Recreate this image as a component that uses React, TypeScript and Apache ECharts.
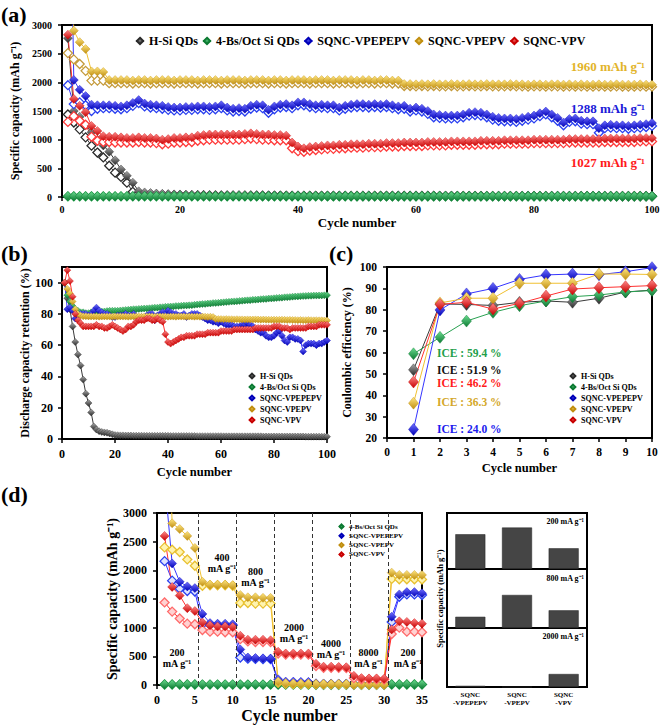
import React, { useEffect, useRef } from 'react';
import * as echarts from 'echarts';

const FONT = '"Liberation Serif", "Times New Roman", Times, serif';

const SAMPLES = ['H-Si QDs', '4-Bs/Oct Si QDs', 'SQNC-VPEPEPV', 'SQNC-VPEPV', 'SQNC-VPV'];

// ---------- (a) specific capacity vs cycle (filled = discharge, hollow = charge) ----------
const A_HSI_DIS = [
  2770, 1500, 1400, 1250, 1130, 1000, 900, 790, 640, 480,
  370, 250, 100, 80, 70, 60, 55, 50, 45, 42,
  40, 38, 36, 35, 34, 33, 32, 32, 31, 30,
  30, 30, 29, 29, 28, 28, 28, 27, 27, 27,
  26, 26, 26, 26, 25, 25, 25, 25, 24, 24,
  24, 24, 24, 23, 23, 23, 23, 23, 22, 22,
  22, 22, 22, 22, 21, 21, 21, 21, 21, 21,
  20, 20, 20, 20, 20, 20, 20, 20, 19, 19,
  19, 19, 19, 19, 19, 19, 18, 18, 18, 18,
  18, 18, 18, 18, 18, 17, 17, 17, 17, 17,
];
const A_HSI_CH = [
  1440, 1300, 1180, 1040, 895, 775, 690, 545, 425, 350,
  250, 90, 65, 55, 48, 42, 38, 35, 32, 30,
  29, 28, 27, 26, 25, 25, 24, 24, 23, 23,
  23, 22, 22, 22, 21, 21, 21, 21, 20, 20,
  20, 20, 20, 19, 19, 19, 19, 19, 19, 18,
  18, 18, 18, 18, 18, 18, 17, 17, 17, 17,
  17, 17, 17, 16, 16, 16, 16, 16, 16, 16,
  16, 15, 15, 15, 15, 15, 15, 15, 15, 15,
  15, 14, 14, 14, 14, 14, 14, 14, 14, 14,
  14, 14, 13, 13, 13, 13, 13, 13, 13, 13,
];
const A_GREEN_DIS = [
  16, 15, 15, 14, 14, 14, 14, 14, 14, 14,
  14, 14, 14, 14, 13, 14, 14, 14, 14, 14,
  14, 14, 13, 14, 14, 14, 14, 14, 14, 13,
  14, 14, 14, 14, 14, 13, 14, 14, 14, 14,
  14, 13, 14, 14, 14, 14, 14, 14, 13, 14,
  14, 14, 14, 14, 13, 14, 14, 14, 14, 14,
  13, 14, 14, 14, 14, 14, 14, 13, 14, 14,
  14, 14, 14, 13, 14, 14, 14, 14, 14, 14,
  13, 14, 14, 14, 14, 14, 13, 14, 14, 14,
  14, 14, 14, 14, 13, 14, 14, 14, 14, 14,
];
const A_GREEN_CH = [
  10, 11, 11, 11, 11, 11, 11, 11, 11, 11,
  11, 11, 11, 11, 11, 11, 11, 11, 11, 11,
  11, 11, 11, 11, 11, 11, 11, 11, 11, 11,
  11, 11, 11, 12, 11, 11, 11, 11, 11, 11,
  11, 11, 11, 11, 11, 11, 11, 12, 11, 11,
  11, 11, 11, 11, 11, 11, 11, 11, 11, 11,
  11, 11, 12, 11, 11, 11, 11, 11, 11, 11,
  11, 11, 11, 11, 11, 11, 12, 11, 11, 11,
  11, 11, 11, 11, 11, 11, 11, 11, 11, 12,
  11, 11, 11, 11, 11, 11, 11, 11, 11, 11,
];
const A_BLUE_DIS = [
  8100, 2040, 1870, 1760, 1610, 1600, 1600, 1600, 1590, 1580,
  1600, 1640, 1690, 1630, 1610, 1600, 1590, 1570, 1560, 1560,
  1570, 1570, 1580, 1580, 1570, 1580, 1600, 1560, 1540, 1550,
  1540, 1590, 1610, 1600, 1520, 1580, 1610, 1620, 1600, 1650,
  1650, 1620, 1600, 1610, 1600, 1600, 1560, 1590, 1610, 1620,
  1620, 1610, 1620, 1610, 1620, 1600, 1580, 1590, 1540, 1560,
  1540, 1500, 1440, 1430, 1420, 1420, 1420, 1440, 1470, 1480,
  1470, 1440, 1400, 1380, 1370, 1370, 1360, 1380, 1400, 1420,
  1460, 1490, 1440, 1380, 1300, 1360, 1370, 1330, 1320, 1320,
  1200, 1250, 1260, 1250, 1250, 1240, 1250, 1260, 1270, 1290,
];
const A_BLUE_CH = [
  1950, 1620, 1650, 1600, 1500, 1540, 1550, 1550, 1540, 1530,
  1550, 1590, 1640, 1580, 1560, 1550, 1540, 1520, 1510, 1510,
  1520, 1520, 1530, 1530, 1520, 1530, 1550, 1510, 1490, 1500,
  1490, 1540, 1560, 1550, 1470, 1530, 1560, 1570, 1550, 1600,
  1600, 1570, 1550, 1560, 1550, 1550, 1510, 1540, 1560, 1570,
  1570, 1560, 1570, 1560, 1570, 1550, 1530, 1540, 1490, 1510,
  1490, 1450, 1390, 1380, 1370, 1370, 1370, 1390, 1420, 1430,
  1420, 1390, 1350, 1330, 1320, 1320, 1310, 1330, 1350, 1370,
  1410, 1440, 1390, 1330, 1250, 1310, 1320, 1280, 1270, 1270,
  1120, 1200, 1210, 1200, 1200, 1190, 1200, 1210, 1220, 1240,
];
const A_GOLD_DIS = [
  6900, 2900, 2700, 2580, 2190, 2190, 2180, 2040, 2040, 2040,
  2040, 2030, 2040, 2040, 2030, 2040, 2040, 2040, 2030, 2040,
  2040, 2040, 2030, 2040, 2040, 2040, 2030, 2040, 2040, 2040,
  2030, 2040, 2040, 2040, 2030, 2040, 2040, 2030, 2040, 2040,
  2040, 2030, 2040, 2040, 2040, 2030, 2040, 2040, 2040, 2030,
  2040, 2040, 2030, 2040, 2040, 2030, 2030, 1970, 1970, 1965,
  1970, 1965, 1970, 1965, 1965, 1970, 1965, 1965, 1970, 1965,
  1965, 1970, 1965, 1965, 1965, 1970, 1965, 1965, 1960, 1965,
  1965, 1960, 1965, 1965, 1960, 1965, 1960, 1965, 1960, 1960,
  1965, 1960, 1960, 1965, 1960, 1960, 1960, 1965, 1960, 1960,
];
const A_GOLD_CH = [
  2510, 2400, 2320, 2200, 2030, 2030, 2030, 1985, 1985, 1985,
  1985, 1980, 1985, 1985, 1980, 1985, 1985, 1985, 1980, 1985,
  1985, 1985, 1980, 1985, 1985, 1985, 1980, 1985, 1985, 1985,
  1980, 1985, 1985, 1985, 1980, 1985, 1985, 1980, 1985, 1985,
  1985, 1980, 1985, 1985, 1985, 1980, 1985, 1985, 1985, 1980,
  1985, 1985, 1980, 1985, 1985, 1980, 1980, 1935, 1935, 1930,
  1935, 1930, 1935, 1930, 1930, 1935, 1930, 1930, 1935, 1930,
  1930, 1935, 1930, 1930, 1930, 1935, 1930, 1930, 1925, 1930,
  1930, 1925, 1930, 1930, 1925, 1930, 1925, 1930, 1925, 1925,
  1930, 1925, 1925, 1930, 1925, 1925, 1925, 1930, 1925, 1925,
];
const A_RED_DIS = [
  2830, 1710, 1590, 1480, 1240, 1150, 1060, 1050, 1050, 1040,
  1030, 1030, 1040, 1030, 1030, 1020, 1000, 1010, 1030, 1030,
  1040, 1040, 1070, 1080, 1090, 1090, 1090, 1090, 1090, 1090,
  1100, 1110, 1100, 1090, 1090, 1080, 1080, 1070, 950, 880,
  850, 870, 880, 890, 900, 900, 910, 910, 920, 920,
  920, 930, 930, 930, 940, 940, 940, 950, 950, 950,
  950, 960, 960, 960, 960, 970, 970, 970, 970, 970,
  980, 980, 980, 980, 990, 990, 990, 990, 990, 1000,
  1000, 1000, 1000, 1000, 1000, 1010, 1010, 1010, 1010, 1010,
  1010, 1020, 1020, 1020, 1020, 1020, 1020, 1030, 1030, 1027,
];
const A_RED_CH = [
  1310, 1410, 1330, 1260, 1050, 980, 960, 960, 950, 950,
  950, 950, 960, 950, 950, 940, 920, 930, 950, 950,
  960, 960, 980, 990, 1000, 1000, 1000, 1000, 1000, 1000,
  1010, 1020, 1010, 1000, 1000, 990, 990, 990, 850, 800,
  790, 810, 820, 830, 840, 840, 850, 850, 860, 860,
  860, 870, 870, 870, 880, 880, 880, 890, 890, 890,
  890, 900, 900, 900, 900, 910, 910, 910, 910, 910,
  920, 920, 920, 920, 930, 930, 930, 930, 930, 940,
  940, 940, 940, 940, 940, 950, 950, 950, 950, 950,
  950, 960, 960, 960, 960, 960, 960, 970, 970, 970,
];

// ---------- (b) discharge capacity retention (%) ----------
const B_HSI = [
  100, 90, 83, 72, 62, 54, 47, 38, 29, 23,
  17, 8, 6, 5, 4.5, 4.2, 4, 3.5, 3, 2.5,
  2.4, 2.3, 2.3, 2.2, 2.2, 2.2, 2.1, 2.1, 2.1, 2.1,
  2, 2, 2, 2, 2, 2, 2, 2, 2, 2,
  1.9, 1.9, 1.9, 1.9, 1.9, 1.9, 1.9, 1.9, 1.9, 1.9,
  1.8, 1.8, 1.8, 1.8, 1.8, 1.8, 1.8, 1.8, 1.8, 1.8,
  1.7, 1.7, 1.7, 1.7, 1.7, 1.7, 1.7, 1.7, 1.7, 1.7,
  1.7, 1.7, 1.7, 1.7, 1.7, 1.6, 1.6, 1.6, 1.6, 1.6,
  1.6, 1.6, 1.6, 1.6, 1.6, 1.6, 1.6, 1.6, 1.6, 1.6,
  1.6, 1.5, 1.5, 1.5, 1.5, 1.5, 1.5, 1.5, 1.5, 1.5,
];
const B_GREEN = [
  100, 92, 88, 85, 83, 82, 81, 81, 80.5, 80.5,
  81, 81, 81.5, 81.7, 81.5, 81.5, 81.8, 82, 82, 82,
  82, 82.2, 82.3, 82.5, 82.6, 82.8, 83, 83, 83.2, 83.3,
  83.4, 83.5, 83.6, 83.8, 84, 84, 84.2, 84.3, 84.5, 84.6,
  84.7, 84.8, 85, 85, 85.2, 85.3, 85.4, 85.5, 85.6, 85.8,
  86, 86.1, 86.3, 86.4, 86.6, 86.7, 86.9, 87, 87.1, 87.3,
  87.4, 87.6, 87.7, 87.9, 88, 88.1, 88.3, 88.4, 88.6, 88.7,
  88.8, 89, 89.1, 89.2, 89.4, 89.5, 89.6, 89.8, 89.9, 90,
  90.2, 90.3, 90.4, 90.6, 90.7, 90.8, 91, 91.1, 91.2, 91.3,
  91.4, 91.5, 91.6, 91.6, 91.7, 91.7, 91.8, 91.8, 91.9, 92,
];
const B_BLUE = [
  100, 83, 84, 82, 77, 79, 80, 80, 80, 79,
  80, 82, 84, 82, 81, 80, 80, 79, 78, 78,
  79, 79, 79, 80, 79, 79, 80, 78, 77, 78,
  77, 79, 80, 80, 76, 79, 80, 81, 80, 82,
  81, 80, 80, 79, 79, 80, 78, 79, 80, 80,
  80, 79, 78, 77, 76, 76, 75, 75, 74, 75,
  74, 73, 73, 73, 72, 72, 72, 73, 73, 74,
  73, 72, 70, 69, 68, 68, 66, 65, 65, 66,
  68, 69, 66, 63, 62, 65, 65, 64, 64, 63,
  56, 60, 61, 61, 61, 60, 61, 61, 62, 63,
];
const B_GOLD = [
  100, 96, 93, 88, 83, 80, 79, 78.5, 78.5, 78.4,
  78.3, 78.4, 78.3, 78.2, 78.3, 78.4, 78.3, 78.3, 78.2, 78.3,
  78.3, 78.4, 78.3, 78.3, 78.2, 78.3, 78.4, 78.3, 78.3, 78.2,
  78.3, 78.3, 78.4, 78.3, 78.2, 78.3, 78.3, 78.4, 78.3, 78.2,
  78.3, 78.3, 78.2, 78.4, 78.3, 78.3, 78.2, 78.3, 78.3, 78.2,
  78.3, 78.2, 78.3, 78.2, 78.1, 78.2, 78.0, 76.8, 76.7, 76.7,
  76.6, 76.7, 76.6, 76.6, 76.5, 76.6, 76.5, 76.5, 76.4, 76.5,
  76.4, 76.4, 76.5, 76.4, 76.3, 76.4, 76.3, 76.3, 76.2, 76.3,
  76.2, 76.2, 76.3, 76.2, 76.1, 76.2, 76.1, 76.1, 76.0, 76.1,
  76.0, 76.0, 76.1, 76.0, 75.9, 76.0, 75.9, 75.9, 75.8, 75.8,
];
const B_RED = [
  100, 108, 101, 91, 80, 76, 74, 72, 72, 72,
  72, 72, 73, 72, 72, 71, 71, 72, 73, 72,
  71, 70, 69, 70, 72, 72, 73, 75, 76, 76,
  76, 77, 77, 76, 76, 77, 76, 75, 67, 62,
  61, 62, 63, 64, 65, 65, 66, 66, 66, 66,
  67, 67, 67, 67, 68, 68, 68, 68, 68, 69,
  69, 69, 69, 69, 70, 70, 70, 70, 70, 70,
  70, 70, 71, 71, 71, 71, 71, 71, 71, 72,
  72, 72, 71, 71, 71, 70, 71, 71, 71, 71,
  71, 71, 72, 72, 72, 72, 73, 73, 73, 73,
];

// ---------- (c) coulombic efficiency (%) ----------
const C_HSI = [51.9, 82.7, 82.5, 82, 83.5, 84.1, 83.5, 85.4, 88.3, 89.2];
const C_GREEN = [59.4, 67.1, 74.7, 78.8, 81.9, 84.1, 86.1, 86.9, 88.3, 89];
const C_BLUE = [24.0, 79.9, 87.4, 90, 94.2, 96.3, 96.7, 96.4, 97.8, 99.7];
const C_GOLD = [36.3, 83.2, 85.4, 85.4, 92.4, 92.4, 92.4, 96.7, 96.7, 96.5];
const C_RED = [46.2, 82.5, 83.5, 80.3, 83, 86.4, 89.7, 90.3, 90.8, 91.3];
const ICE_TEXTS = ['ICE : 59.4 %', 'ICE : 51.9 %', 'ICE : 46.2 %', 'ICE : 36.3 %', 'ICE : 24.0 %'];

// ---------- (d) rate capability ----------
const D_GREEN_DIS = [14, 12, 12, 12, 11, 11, 11, 11, 11, 11, 10, 10, 10, 10, 10, 9, 9, 9, 9, 9, 8, 8, 8, 8, 8, 7, 7, 7, 7, 7, 11, 11, 11, 11, 11];
const D_GREEN_CH = [8, 8, 8, 8, 8, 7, 7, 7, 7, 7, 7, 7, 7, 7, 7, 6, 6, 6, 6, 6, 5, 5, 5, 5, 5, 5, 5, 5, 5, 5, 8, 8, 8, 8, 8];
const D_BLUE_DIS = [3600, 2120, 1800, 1720, 1690, 1240, 1080, 1070, 1070, 1060, 620, 480, 470, 465, 460, 100, 60, 60, 55, 55, 30, 25, 25, 25, 25, 20, 20, 20, 20, 20, 1190, 1580, 1620, 1620, 1600];
const D_BLUE_CH = [2160, 1820, 1680, 1640, 1630, 1060, 1050, 1050, 1040, 1040, 480, 460, 455, 450, 450, 50, 30, 30, 30, 30, 15, 15, 15, 15, 15, 10, 10, 10, 10, 10, 1100, 1540, 1580, 1580, 1570];
const D_GOLD_DIS = [6900, 2820, 2720, 2600, 2390, 1800, 1750, 1750, 1750, 1740, 1570, 1530, 1530, 1520, 1520, 60, 30, 25, 20, 20, 15, 15, 15, 15, 15, 10, 10, 10, 10, 10, 1960, 1920, 1920, 1920, 1920];
const D_GOLD_CH = [2400, 2360, 2320, 2190, 2080, 1730, 1740, 1740, 1740, 1730, 1430, 1430, 1420, 1420, 1420, 40, 20, 15, 15, 15, 10, 10, 10, 10, 10, 8, 8, 8, 8, 8, 1850, 1845, 1845, 1845, 1840];
const D_RED_DIS = [2600, 1710, 1560, 1340, 1290, 1090, 1040, 1020, 1020, 1010, 860, 790, 790, 790, 780, 580, 550, 550, 550, 550, 370, 320, 320, 315, 310, 160, 120, 115, 115, 110, 970, 1110, 1100, 1080, 1070];
const D_RED_CH = [1440, 1280, 1160, 1070, 1060, 960, 930, 930, 920, 920, 800, 760, 750, 750, 750, 550, 530, 530, 530, 530, 330, 300, 300, 300, 295, 120, 100, 100, 100, 95, 890, 1000, 930, 930, 920];
const D_RATE_BREAKS = [5.5, 10.5, 15.5, 20.5, 25.5, 30.5];
const D_RATE_LABELS = ['200', '400', '800', '2000', '4000', '8000', '200'];

// ---------- (d) inset bars ----------
const BAR_CATS = ['SQNC-VPEPEPV', 'SQNC-VPEPV', 'SQNC-VPV'];
const BAR_200 = [62, 74, 37];
const BAR_800 = [19, 56, 30];
const BAR_2000 = [2, 0, 22];
const BAR_RATES = ['200 mA g⁻¹', '800 mA g⁻¹', '2000 mA g⁻¹'];

const S: any = {
  gray: { light: '#a8a8a8', dark: '#2a2a2a', line: '#3a3a3a', stroke: '#2a2a2a' },
  green: { light: '#6bdc90', dark: '#0c7a32', line: '#28a050', stroke: '#1f9e48' },
  blue: { light: '#7070ff', dark: '#0000b8', line: '#3535ff', stroke: '#2a40f0' },
  gold: { light: '#ffe680', dark: '#c08e10', line: '#f0c030', stroke: '#c49a3a' },
  red: { light: '#ff8a8a', dark: '#c80000', line: '#ff3030', stroke: '#ff3a3a' },
};

function grad(s: any) {
  return new echarts.graphic.LinearGradient(0, 0, 0, 1, [
    { offset: 0, color: s.light },
    { offset: 1, color: s.dark },
  ]);
}

function mk(name: string, values: number[], axis: number, s: any, filled: boolean, size: any, fill = '#ffffff', extra: any = {}) {
  return {
    type: 'line',
    name,
    xAxisIndex: axis,
    yAxisIndex: axis,
    data: values.map((v, i) => [i + 1, v]),
    symbol: 'diamond',
    symbolSize: size,
    showSymbol: true,
    clip: true,
    lineStyle: { color: s.line, width: 1 },
    itemStyle: filled
      ? { color: grad(s), borderColor: s.dark, borderWidth: 0.4 }
      : { color: fill, borderColor: s.stroke, borderWidth: 1.3 },
    emphasis: { disabled: true },
    animation: false,
    ...extra,
  };
}

const lab = (fs: number, margin: number, extra: any = {}) => ({
  color: '#000', fontFamily: FONT, fontWeight: 'bold', fontSize: fs, margin,
  formatter: (v: number) => String(v),
  ...extra,
});
const nameStyle = (fs: number) => ({ color: '#000', fontFamily: FONT, fontWeight: 'bold', fontSize: fs });
const axLine = { show: true, onZero: false, lineStyle: { color: '#000', width: 2 } };
const axTick = { show: true, inside: false, length: 4, lineStyle: { color: '#000', width: 1.5 } };

function valAxis(grid: number, min: number, max: number, interval: number, fs: number, margin: number, name: string, nameGap: number, nameFs: number, extraLabel: any = {}) {
  return {
    gridIndex: grid, type: 'value', min, max, interval,
    axisLine: axLine, axisTick: axTick, splitLine: { show: false },
    axisLabel: lab(fs, margin, extraLabel),
    name, nameLocation: 'middle', nameGap, nameTextStyle: nameStyle(nameFs),
  };
}

function txt(text: string, x: number, y: number, fs: number, color: string, align = 'left', vAlign = 'middle', lineHeight?: number) {
  return {
    type: 'text', x, y, silent: true, z: 100,
    style: {
      text, fill: color, font: `bold ${fs}px ${FONT}`,
      textAlign: align, textVerticalAlign: vAlign, align, verticalAlign: vAlign,
      lineHeight: lineHeight || fs * 1.2,
    },
  };
}

function buildOption() {
  const grids = [
    { left: 62, top: 25, width: 590, height: 172 },
    { left: 62, top: 267, width: 265, height: 172 },
    { left: 387, top: 267, width: 265, height: 171 },
    { left: 157, top: 513, width: 265, height: 172 },
    { left: 447, top: 513, width: 140, height: 56 },
    { left: 447, top: 569, width: 140, height: 59 },
    { left: 447, top: 628, width: 140, height: 59 },
  ].map((g) => ({ ...g, show: true, borderColor: '#000', borderWidth: 2, backgroundColor: 'transparent', containLabel: false, outerBoundsMode: 'none' }));

  const catAxis = (grid: number, showLabel: boolean) => ({
    gridIndex: grid, type: 'category', data: BAR_CATS,
    axisLine: { show: false }, axisTick: { show: false }, splitLine: { show: false },
    axisLabel: {
      show: showLabel, color: '#000', fontFamily: FONT, fontWeight: 'bold', fontSize: 7, lineHeight: 8, margin: 4,
      formatter: (v: string) => v.replace('SQNC-', 'SQNC\n-'),
    },
  });

  const xAxis = [
    valAxis(0, 0, 100, 20, 10, 7, 'Cycle number', 19, 13),
    valAxis(1, 0, 100, 20, 12, 9, 'Cycle number', 26, 12.5),
    valAxis(2, 0, 10, 1, 11.5, 8, 'Cycle number', 23, 12.5),
    valAxis(3, 0, 35, 5, 12, 9, 'Cycle number', 22, 16),
    catAxis(4, false),
    catAxis(5, false),
    catAxis(6, true),
  ];

  const hiddenY = (grid: number, name = '') => ({
    gridIndex: grid, type: 'value', min: 0, max: 100, show: true,
    axisLine: { show: false }, axisTick: { show: false }, axisLabel: { show: false }, splitLine: { show: false },
    name, nameLocation: 'middle', nameGap: 3, nameTextStyle: nameStyle(8.5),
  });

  const yAxis = [
    valAxis(0, 0, 3000, 500, 10, 10, 'Specific capacity (mAh g⁻¹)', 35, 12),
    valAxis(1, 0, 110, 20, 12, 9, 'Discharge capacity retention (%)', 31, 12, { showMaxLabel: false }),
    valAxis(2, 20, 100, 10, 11.5, 10, 'Coulombic efficiency (%)', 34, 12),
    valAxis(3, 0, 3000, 500, 12, 10, 'Specific capacity (mAh g⁻¹)', 38, 14),
    hiddenY(4),
    hiddenY(5, 'Specific capacity (mAh g⁻¹)'),
    hiddenY(6),
  ];

  const series: any[] = [];
  // (a)
  series.push(mk('H-Si QDs ch-a', A_HSI_CH, 0, S.gray, false, 9));
  series.push(mk('H-Si QDs', A_HSI_DIS, 0, S.gray, true, 9));
  series.push(mk('SQNC-VPEPEPV ch-a', A_BLUE_CH, 0, S.blue, false, 9));
  series.push(mk('SQNC-VPEPEPV', A_BLUE_DIS, 0, S.blue, true, 9));
  series.push(mk('SQNC-VPEPV ch-a', A_GOLD_CH, 0, S.gold, false, 9));
  series.push(mk('SQNC-VPEPV', A_GOLD_DIS, 0, S.gold, true, 9));
  series.push(mk('SQNC-VPV ch-a', A_RED_CH, 0, S.red, false, 9));
  series.push(mk('SQNC-VPV', A_RED_DIS, 0, S.red, true, 9));
  series.push(mk('4-Bs/Oct Si QDs ch-a', A_GREEN_CH, 0, S.green, false, 9));
  series.push(mk('4-Bs/Oct Si QDs', A_GREEN_DIS, 0, S.green, true, 9));
  // (b)
  series.push(mk('H-Si QDs', B_HSI, 1, S.gray, true, 7));
  series.push(mk('4-Bs/Oct Si QDs', B_GREEN, 1, S.green, true, 7));
  series.push(mk('SQNC-VPEPEPV', B_BLUE, 1, S.blue, true, 7));
  series.push(mk('SQNC-VPEPV', B_GOLD, 1, S.gold, true, 7));
  series.push(mk('SQNC-VPV', B_RED, 1, S.red, true, 7));
  // (c)
  series.push(mk('H-Si QDs', C_HSI, 2, S.gray, true, [10, 12]));
  series.push(mk('4-Bs/Oct Si QDs', C_GREEN, 2, S.green, true, [10, 12]));
  series.push(mk('SQNC-VPEPEPV', C_BLUE, 2, S.blue, true, [10, 12]));
  series.push(mk('SQNC-VPEPV', C_GOLD, 2, S.gold, true, [10, 12]));
  series.push(mk('SQNC-VPV', C_RED, 2, S.red, true, [10, 12]));
  // (d)
  series.push(mk('4-Bs/Oct Si QDs ch-d', D_GREEN_CH, 3, S.green, false, 9, '#e6f7ea', {
    markLine: {
      silent: true, symbol: ['none', 'none'], label: { show: false },
      lineStyle: { type: [4, 3], color: '#333', width: 1 },
      emphasis: { disabled: true },
      data: D_RATE_BREAKS.map((x) => ({ xAxis: x })),
    },
  }));
  series.push(mk('4-Bs/Oct Si QDs', D_GREEN_DIS, 3, S.green, true, 9));
  series.push(mk('SQNC-VPEPEPV ch-d', D_BLUE_CH, 3, S.blue, false, 9, '#dfe3ff'));
  series.push(mk('SQNC-VPEPEPV', D_BLUE_DIS, 3, S.blue, true, 9));
  series.push(mk('SQNC-VPEPV ch-d', D_GOLD_CH, 3, { ...S.gold, stroke: '#e8c030' }, false, 9, '#fff4b0'));
  series.push(mk('SQNC-VPEPV', D_GOLD_DIS, 3, S.gold, true, 9));
  series.push(mk('SQNC-VPV ch-d', D_RED_CH, 3, { ...S.red, stroke: '#ff6a6a' }, false, 9, '#ffd2d2'));
  series.push(mk('SQNC-VPV', D_RED_DIS, 3, S.red, true, 9));
  // bars
  [BAR_200, BAR_800, BAR_2000].forEach((vals, k) => {
    series.push({
      type: 'bar', name: 'bar' + k, xAxisIndex: 4 + k, yAxisIndex: 4 + k, data: vals,
      barWidth: 30, itemStyle: { color: '#454545', borderColor: '#222', borderWidth: 0.5 },
      emphasis: { disabled: true }, animation: false,
    });
  });

  const legendText = (fs: number) => ({ color: '#000', fontFamily: FONT, fontWeight: 'bold', fontSize: fs });
  const legend = [
    { left: 135, top: 35, orient: 'horizontal', padding: 0, itemWidth: 8, itemHeight: 8, itemGap: 4, data: SAMPLES, textStyle: legendText(12), selectedMode: false },
    { left: 248, top: 372, orient: 'vertical', padding: 0, itemWidth: 6, itemHeight: 6, itemGap: 3, data: SAMPLES, textStyle: legendText(8), selectedMode: false },
    { left: 569, top: 372, orient: 'vertical', padding: 0, itemWidth: 6, itemHeight: 6, itemGap: 3, data: SAMPLES, textStyle: legendText(8), selectedMode: false },
    { left: 338, top: 523, orient: 'vertical', padding: 0, itemWidth: 5, itemHeight: 5, itemGap: 2.3, data: SAMPLES.slice(1), textStyle: legendText(7), selectedMode: false },
  ];

  const RATE_POS = [[177, 658], [222, 563], [255.5, 577], [294, 633], [331, 649], [368.5, 658], [408, 658]];
  const ICE_POS = [[437, 353, '#1fa04a'], [437, 370, '#111111'], [437, 383, '#ff1a1a'], [437, 402, '#d4a82a'], [437, 429, '#1a1aee']];
  const graphic: any[] = [
    txt('(a)', 1, 1, 22, '#000', 'left', 'top'),
    txt('(b)', 1, 240, 22, '#000', 'left', 'top'),
    txt('(c)', 329, 240, 22, '#000', 'left', 'top'),
    txt('(d)', 1, 481, 22, '#000', 'left', 'top'),
    txt('1960 mAh g⁻¹', 645, 66, 13, '#e2b42a', 'right'),
    txt('1288 mAh g⁻¹', 645, 108, 13, '#1a1ad8', 'right'),
    txt('1027 mAh g⁻¹', 645, 162, 13, '#ff1a1a', 'right'),
    ...ICE_TEXTS.map((t, i) => txt(t, ICE_POS[i][0] as number, ICE_POS[i][1] as number, 11.5, ICE_POS[i][2] as string)),
    ...D_RATE_LABELS.map((t, i) => txt(t + '\nmA g⁻¹', RATE_POS[i][0], RATE_POS[i][1], 10, '#000', 'center', 'middle', 11)),
    txt(BAR_RATES[0], 584, 521, 8, '#000', 'right'),
    txt(BAR_RATES[1], 584, 578, 8, '#000', 'right'),
    txt(BAR_RATES[2], 584, 636, 8, '#000', 'right'),
  ];

  return {
    animation: false,
    backgroundColor: '#ffffff',
    textStyle: { fontFamily: FONT },
    grid: grids,
    xAxis,
    yAxis,
    legend,
    series,
    graphic,
  };
}

export default function App() {
  const ref = useRef<HTMLDivElement>(null);
  useEffect(() => {
    if (!ref.current) return;
    const chart = echarts.init(ref.current, null, { renderer: 'svg' });
    chart.setOption(buildOption() as any);
    return () => chart.dispose();
  }, []);
  return <div ref={ref} style={{ position: 'fixed', left: 0, top: 0, width: 661, height: 725 }} />;
}
